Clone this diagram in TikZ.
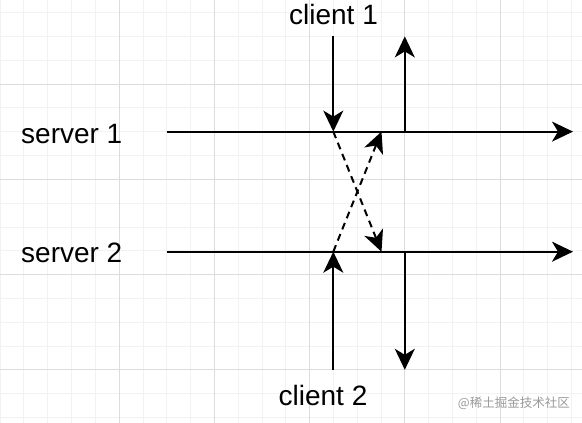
\documentclass[tikz,border=0pt]{standalone}
\usepackage{fontspec}
\setmainfont{Liberation Sans}
\newfontfamily\cjkfont{Noto Sans CJK SC}
\usetikzlibrary{arrows.meta}
\definecolor{gridminor}{HTML}{F2F2F2}
\definecolor{gridmajor}{HTML}{DCDCDC}
\definecolor{wmgray}{HTML}{9A9A9A}
\begin{document}
\begin{tikzpicture}[x=1pt,y=-1pt,
  flow/.style={line width=2pt,-{Stealth[length=21pt,width=20pt,inset=6pt]}},
  dashflow/.style={line width=2pt,dash pattern=on 7pt off 5pt,-{Stealth[length=21pt,width=20pt,inset=6pt]}},
  lbl/.style={font=\fontsize{28}{32}\selectfont,inner sep=0pt},
  wm/.style={font=\cjkfont\fontsize{12.5}{15}\selectfont,text=wmgray,inner sep=0pt}]
\useasboundingbox (0,0) rectangle (582,423);
\fill[white] (0,0) rectangle (582,423);
% grid
\foreach \k in {0,...,24} \draw[gridminor,line width=0.7pt] ({23.81*\k},0) -- ({23.81*\k},423);
\foreach \k in {0,...,17} \draw[gridminor,line width=0.7pt] (0,{12.6+23.81*\k}) -- (582,{12.6+23.81*\k});
\foreach \k in {5,9,13,17,21} \draw[gridmajor,line width=0.7pt] ({23.81*\k},0) -- ({23.81*\k},423);
\foreach \k in {3,7,11,15} \draw[gridmajor,line width=0.7pt] (0,{12.6+23.81*\k}) -- (582,{12.6+23.81*\k});
% coordinates
\coordinate (s1start) at (166.7,131.6);
\coordinate (s1end) at (573,131.6);
\coordinate (s2start) at (166.7,251.7);
\coordinate (s2end) at (573,251.7);
\coordinate (c1top) at (333.3,36.4);
\coordinate (c1hit) at (333.3,131.6);
\coordinate (r1top) at (404.8,36.4);
\coordinate (r1base) at (404.8,131.6);
\coordinate (c2bot) at (333.3,369.8);
\coordinate (c2hit) at (333.3,251.7);
\coordinate (r2bot) at (404.8,369.8);
\coordinate (r2base) at (404.8,251.7);
\coordinate (x1end) at (381.5,251.7);
\coordinate (x2end) at (381.5,131.6);
% lines
\draw[flow] (s1start) -- (s1end);
\draw[flow] (s2start) -- (s2end);
\draw[flow] (c1top) -- (c1hit);
\draw[flow] (r1base) -- (r1top);
\draw[flow] (c2bot) -- (c2hit);
\draw[flow] (r2base) -- (r2bot);
\draw[dashflow] (c1hit) -- (x1end);
\draw[dashflow] (c2hit) -- (x2end);
% labels
\node[lbl,anchor=base] (client1) at (333.5,24) {client 1};
\node[lbl,anchor=base] (client2) at (323,405) {client 2};
\node[lbl,anchor=base west] (server1) at (21,143) {server 1};
\node[lbl,anchor=base west] (server2) at (21,262) {server 2};
\node[wm,anchor=east] (wmark) at (570,403) {@稀土掘金技术社区};
\end{tikzpicture}
\end{document}
